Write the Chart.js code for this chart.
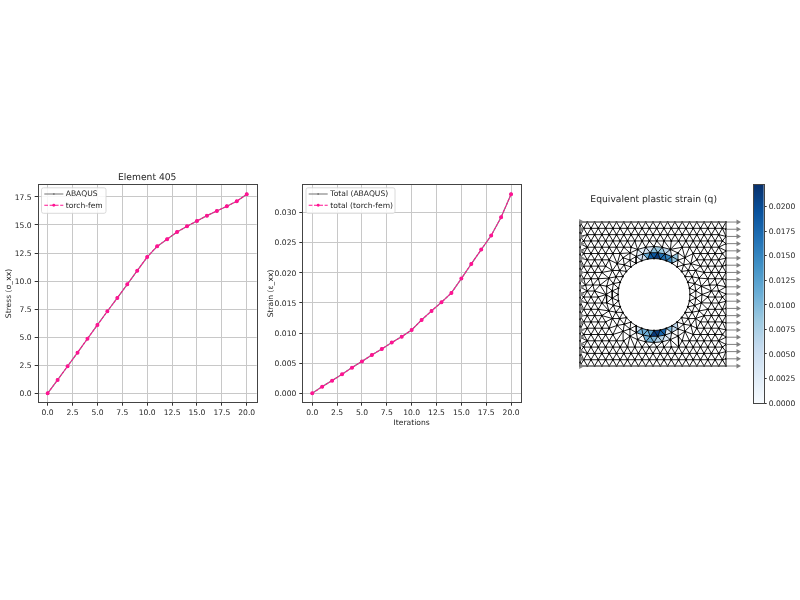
<!DOCTYPE html>
<html><head><meta charset="utf-8">
<style>html,body{margin:0;background:#fff;width:800px;height:600px;overflow:hidden}canvas{position:absolute;display:block;filter:blur(.25px)}</style>
<script src="https://cdn.jsdelivr.net/npm/chart.js@4"></script></head><body>
<canvas id="c1" width="265" height="270" style="left:0;top:165px"></canvas>
<canvas id="c2" width="270" height="270" style="left:265px;top:165px"></canvas>
<canvas id="c3" width="188" height="270" style="left:560px;top:165px"></canvas>
<canvas id="c4" width="60" height="270" style="left:740px;top:165px"></canvas>
<script>
const iterations=[0,1,2,3,4,5,6,7,8,9,10,11,12,13,14,15,16,17,18,19,20];
const stressAbaqus=[0,1.2,2.41,3.63,4.86,6.09,7.31,8.51,9.71,10.93,12.14,13.09,13.73,14.38,14.88,15.36,15.83,16.25,16.67,17.11,17.74];
const stressTorch=[0,1.19,2.41,3.62,4.87,6.09,7.31,8.5,9.71,10.93,12.15,13.1,13.73,14.38,14.88,15.36,15.83,16.25,16.67,17.11,17.74];
const strainAbaqus=[0,.00111,.00211,.00316,.00427,.0053,.00637,.00737,.00842,.00941,.01052,.01218,.01368,.01512,.01668,.01905,.02148,.02386,.02619,.02924,.03306];
const strainTorch=[0,.0011,.0021,.00316,.00426,.0053,.00637,.00736,.00842,.00941,.01052,.01218,.01368,.01512,.01667,.01905,.02148,.02387,.02619,.02924,.03306];
const xTicks=[0,2.5,5,7.5,10,12.5,15,17.5,20];
const stressTicks=[0,2.5,5,7.5,10,12.5,15,17.5];
const strainTicks=[0,.005,.01,.015,.02,.025,.03];
const colorbarTicks=[0,.0025,.005,.0075,.01,.0125,.015,.0175,.02];
const colorbarMax=0.02228;
const blues=['#f7fbff','#deebf7','#c6dbef','#9ecae1','#6baed6','#4292c6','#2171b5','#08519c','#08306b'];
// mesh nodes: [row height, x positions]
const rowA=[7.3,14.6,21.9,29.2,36.5,43.8,51.1,58.4,65.7,73,80.3,87.6,94.9,102.2,109.5,116.8,124.1,131.4,138.7];
const rowB=[3.7,11,18.3,25.6,32.9,40.2,47.5,54.8,62.1,69.4,76.7,84,91.3,98.6,105.9,113.2,120.5,127.8,135.1,142.4];
const meshRows=[
[137.7,rowB],[131.4,rowA],[125.1,rowB],[118.8,rowA],
[112.5,[3.7,11,18.3,25.6,32.9,40.2,47.5,98.6,105.9,113.2,120.5,127.8,135.1,142.4]],
[106.2,[7.3,14.6,21.9,29.2,36.5,109.5,116.8,124.1,131.4,138.7]],
[99.9,[3.7,11,18.3,25.6,32.9,113.2,120.5,127.8,135.1,142.4]],
[93.6,[7.3,14.6,21.9,29.2,116.8,124.1,131.4,138.7]],
[87.3,[3.7,11,18.3,25.6,120.5,127.8,135.1,142.4]],
[81,[5.5,12.8,20.1,27,122.3,129.6,136.9]],
[75,[7.3,14.6,21.9,27,124.1,131.4,138.7]],
[69,[3.7,11,18.3,25,121.5,127.8,135.1,142.4]],
[63,[7.3,14.6,21.9,27.3,122.5,131.4,138.7]],
[56.7,[3.7,11,18.3,25.6,120.5,127.8,135.1,142.4]],
[50.4,[7.3,14.6,21.9,29.2,116.8,124.1,131.4,138.7]],
[44.1,[3.7,11,18.3,25.6,32.9,113.2,120.5,127.8,135.1,142.4]],
[37.8,[7.3,14.6,21.9,29.2,36.5,109.5,116.8,124.1,131.4,138.7]],
[31.5,[3.7,11,18.3,25.6,32.9,40.2,47.5,105.9,113.2,120.5,127.8,135.1,142.4]],
[25.2,rowA],[18.9,rowB],[12.6,rowA],[6.3,rowB]];
const topBottomRow=[0,7.3,14.6,21.9,29.2,36.5,43.8,51.1,58.4,65.7,73,80.3,87.6,94.9,102.2,109.5,116.8,124.1,131.4,138.7,146];
const edgeHeights=[7.2,14.4,21.6,28.8,36,43.2,50.4,57.6,64.8,72,79.2,86.4,93.6,100.8,108,115.2,122.4,129.6,136.8];
const holeRing=[[110,71.5],[109.5,77.8],[107.8,83.8],[105.2,89.5],[101.6,94.6],[97.1,99.1],[92,102.7],[86.3,105.3],[80.3,107],[74,107.5],[67.7,107],[61.7,105.3],[56,102.7],[50.9,99.1],[46.4,94.6],[42.8,89.5],[40.2,83.8],[38.5,77.8],[38,71.5],[38.5,65.2],[40.2,59.2],[42.8,53.5],[46.4,48.4],[50.9,43.9],[56,40.3],[61.7,37.7],[67.7,36],[74,35.5],[80.3,36],[86.3,37.7],[92,40.3],[97.1,43.9],[101.6,48.4],[105.2,53.5],[107.8,59.2],[109.5,65.2]];
const holeRing2=[[115.8,75.2],[114.6,82.4],[112.1,89.2],[108.4,95.6],[103.7,101.2],[98.1,105.9],[91.7,109.6],[84.9,112.1],[77.7,113.3],[70.3,113.3],[63.1,112.1],[56.3,109.6],[49.9,105.9],[44.3,101.2],[39.6,95.6],[35.9,89.2],[33.4,82.4],[32.2,75.2],[32.2,67.8],[33.4,60.6],[35.9,53.8],[39.6,47.4],[44.3,41.8],[49.9,37.1],[56.3,33.4],[63.1,30.9],[70.3,29.7],[77.7,29.7],[84.9,30.9],[91.7,33.4],[98.1,37.1],[103.7,41.8],[108.4,47.4],[112.1,53.8],[114.6,60.6],[115.8,67.8]];
const holeRing3=[[122,71.5],[121.3,79.8],[119.1,87.9],[115.6,95.5],[110.8,102.4],[104.9,108.3],[98,113.1],[90.4,116.6],[82.3,118.8],[74,119.5],[65.7,118.8],[57.6,116.6],[50,113.1],[43.1,108.3],[37.2,102.4],[32.4,95.5],[28.9,87.9],[26.7,79.8],[26,71.5],[26.7,63.2],[28.9,55.1],[32.4,47.5],[37.2,40.6],[43.1,34.7],[50,29.9],[57.6,26.4],[65.7,24.2],[74,23.5],[82.3,24.2],[90.4,26.4],[98,29.9],[104.9,34.7],[110.8,40.6],[115.6,47.5],[119.1,55.1],[121.3,63.2]];
const holeCentre=[74,71.5],holeRadius=36,latticeClearance=52.5;
// equivalent plastic strain read per patch of elements: [x, y, q]
const strainCells=[[77.5,109.5,.0215],[71,110,.019],[84,110,.017],[66,110,.012],[90,108,.015],[62,108,.004],[94,107,.009],[74,116,.0095],[81,116,.0085],[67,116,.004],[88,114,.006],[61,112,.002],
[77,33,.0215],[70,34,.013],[84,33,.018],[64,35,.011],[90,36,.01],[59,38,.004],[95,39,.006],[67,29,.011],[74,28,.01],[81,28,.007],[87,31,.003]];
const arrowHeights=[0,7.2,14.4,21.6,28.8,36,43.2,50.4,57.6,64.8,72,79.2,86.4,93.6,100.8,108,115.2,122.4,129.6,136.8,144];
const plateWidth=146,arrowLength=12;

Chart.defaults.font.family='"DejaVu Sans"';
Chart.defaults.font.size=7.6;
Chart.defaults.color='#262626';
Chart.defaults.animation=false;
Chart.defaults.responsive=false;
Chart.register({id:'preciseText',beforeDraw(ch){ch.ctx.textRendering='geometricPrecision';}});

const frame={id:'frame',afterDatasetsDraw(ch){const a=ch.chartArea,c=ch.ctx;c.save();c.strokeStyle='#444';c.lineWidth=1;
 c.strokeRect(Math.round(a.left)+.5,Math.round(a.top)+.5,Math.round(a.right-a.left),Math.round(a.bottom-a.top));c.restore();}};
function legendPlugin(box,sample,textX,rows){return {id:'lg',afterDraw(ch){const c=ch.ctx,[x,y,w,h]=box;c.save();
 c.beginPath();c.roundRect(x,y,w,h,2);c.fillStyle='rgba(255,255,255,.85)';c.fill();c.strokeStyle='#d0d0d0';c.lineWidth=.8;c.stroke();
 c.font='7.6px "DejaVu Sans"';c.textBaseline='middle';
 ch.data.datasets.forEach((d,i)=>{const yy=rows[i];c.strokeStyle=d.borderColor;c.lineWidth=1.1;c.setLineDash(d.borderDash?[3.7,1.6]:[]);
  c.beginPath();c.moveTo(sample[0],yy);c.lineTo(sample[1],yy);c.stroke();c.setLineDash([]);
  c.fillStyle=d.borderColor;c.beginPath();c.arc((sample[0]+sample[1])/2,yy,d.pointRadius,0,7);c.fill();
  c.fillStyle='#262626';c.fillText(d.label,textX,yy+.3);});c.restore();}};}
const pts=a=>a.map((v,i)=>({x:iterations[i],y:v}));
function lineChart(id,o){
 const axisGrid={color:'#c8c8c8',lineWidth:1,tickLength:3,tickColor:'#333',tickWidth:1,drawTicks:true};
 return new Chart(document.getElementById(id),{type:'line',
 data:{datasets:[
  {label:o.labels[0],data:pts(o.a),borderColor:'#7f7f7f',backgroundColor:'#7f7f7f',borderWidth:1.2,pointRadius:1,order:2,tension:0},
  {label:o.labels[1],data:pts(o.b),borderColor:'#ff1493',backgroundColor:'#ff1493',borderWidth:1.1,borderDash:[3,1],pointRadius:1.45,order:1,tension:0}]},
 options:{parsing:true,layout:{padding:{right:o.padRight,top:o.padTop||0}},
  plugins:{legend:{display:false},tooltip:{enabled:false},
   title:{display:!!o.title,fullSize:false,text:o.title||'',font:{size:9.2,weight:'normal'},color:'#262626',padding:{top:7,bottom:1.3}}},
  scales:{
   x:{type:'linear',min:-1,max:21,afterBuildTicks:s=>{s.ticks=xTicks.map(v=>({value:v}));},
      afterFit:s=>{s.height=o.xHeight;},grid:axisGrid,border:{display:false},
      ticks:{padding:3,maxRotation:0,autoSkip:false,callback:v=>v.toFixed(1)},
      title:{display:!!o.xTitle,text:o.xTitle||'',font:{size:7.6},color:'#262626',padding:{top:0,bottom:7.5}}},
   y:{type:'linear',min:o.min,max:o.max,afterBuildTicks:s=>{s.ticks=o.ticks.map(v=>({value:v}));},
      afterFit:s=>{s.width=o.yWidth;},grid:axisGrid,border:{display:false},
      ticks:{padding:3,labelOffset:.7,autoSkip:false,callback:v=>v.toFixed(o.dec)},
      title:{display:true,text:o.yTitle,font:{size:7.6},color:'#262626',padding:{top:o.yTitlePad,bottom:0}}}}},
 plugins:[frame,legendPlugin(o.box,o.sample,o.textX,[29,40.3])]});
}
lineChart('c1',{a:stressAbaqus,b:stressTorch,labels:['ABAQUS','torch-fem'],title:'Element 405',yTitle:'Stress (σ_xx)',min:-.84,max:18.62,ticks:stressTicks,dec:1,
 padRight:8.3,xHeight:32.3,yWidth:37.7,yTitlePad:4.5,box:[41.5,22.8,64.5,25.5],sample:[44.3,63.3],textX:65.7});
lineChart('c2',{a:strainAbaqus,b:strainTorch,labels:['Total (ABAQUS)','total (torch-fem)'],yTitle:'Strain (ε_xx)',xTitle:'Iterations',min:-.00156,max:.0347,ticks:strainTicks,dec:3,
 padRight:14,padTop:19.3,xHeight:32.3,yWidth:37.3,yTitlePad:1.5,box:[41,22.8,89,25.5],sample:[43.7,62.7],textX:65.3});

// triangulate the read nodes
const nodes=[];
topBottomRow.forEach(x=>{nodes.push([x,144]);nodes.push([x,0]);});
edgeHeights.forEach(y=>{nodes.push([0,y]);nodes.push([plateWidth,y]);});
meshRows.forEach(([y,xs])=>xs.forEach(x=>{if(Math.hypot(x-holeCentre[0],y-holeCentre[1])>=latticeClearance)nodes.push([x,y]);}));
holeRing.forEach(p=>nodes.push(p));holeRing2.forEach(p=>nodes.push(p));holeRing3.forEach(p=>nodes.push(p));
function delaunay(P){const n=P.length,all=P.concat([[-5000,-5000],[5000,-5000],[0,6000]]);let T=[[n,n+1,n+2]];
 const inC=(t,p)=>{const [a,b,c]=t.map(i=>all[i]);const ax=a[0]-p[0],ay=a[1]-p[1],bx=b[0]-p[0],by=b[1]-p[1],cx=c[0]-p[0],cy=c[1]-p[1];
  const det=(ax*ax+ay*ay)*(bx*cy-cx*by)-(bx*bx+by*by)*(ax*cy-cx*ay)+(cx*cx+cy*cy)*(ax*by-bx*ay);
  const o=(b[0]-a[0])*(c[1]-a[1])-(b[1]-a[1])*(c[0]-a[0]);return o>0?det>0:det<0;};
 for(let i=0;i<n;i++){const bad=[],keep=[];T.forEach(t=>(inC(t,all[i])?bad:keep).push(t));const E=new Map();
  bad.forEach(t=>[[t[0],t[1]],[t[1],t[2]],[t[2],t[0]]].forEach(([u,v])=>{const k=Math.min(u,v)+'_'+Math.max(u,v);E.set(k,E.has(k)?null:[u,v]);}));
  E.forEach(e=>{if(e)keep.push([e[0],e[1],i]);});T=keep;}
 return T.filter(t=>t.every(i=>i<n));}
const tris=delaunay(nodes).filter(t=>{const [a,b,c]=t.map(i=>nodes[i]);
 const area=Math.abs((b[0]-a[0])*(c[1]-a[1])-(b[1]-a[1])*(c[0]-a[0]))/2;
 const cx=(a[0]+b[0]+c[0])/3,cy=(a[1]+b[1]+c[1])/3;
 return area>.5&&Math.hypot(cx-holeCentre[0],cy-holeCentre[1])>holeRadius;});
function blueOf(q){const t=Math.min(1,q/colorbarMax)*8,i=Math.min(7,Math.floor(t)),f=t-i;
 const h=s=>[1,3,5].map(k=>parseInt(s.substr(k,2),16));const A=h(blues[i]),B=h(blues[i+1]);
 return 'rgb('+A.map((v,k)=>Math.round(v+(B[k]-v)*f)).join(',')+')';}
const cellSets=[];const seen=new Set();const meshLine=[];
tris.forEach(t=>{const P=t.map(i=>nodes[i]);const cx=(P[0][0]+P[1][0]+P[2][0])/3,cy=(P[0][1]+P[1][1]+P[2][1])/3;
 let best=null,bd=4.5;strainCells.forEach(s=>{const d=Math.hypot(s[0]-cx,s[1]-cy);if(d<bd){bd=d;best=s;}});
 if(best)cellSets.push({type:'scatter',data:[...P,P[0]].map(p=>({x:p[0],y:p[1]})),showLine:true,fill:'shape',tension:0,borderWidth:0,pointRadius:0,backgroundColor:blueOf(best[2]),borderColor:'transparent',order:5});
 [[t[0],t[1]],[t[1],t[2]],[t[2],t[0]]].forEach(([u,v])=>{const k=Math.min(u,v)+'_'+Math.max(u,v);if(seen.has(k))return;seen.add(k);
  meshLine.push({x:nodes[u][0],y:nodes[u][1]},{x:nodes[v][0],y:nodes[v][1]},{x:nodes[v][0],y:null});});});
const shafts=[];arrowHeights.forEach(y=>shafts.push({x:plateWidth,y},{x:plateWidth+arrowLength,y},{x:plateWidth+arrowLength,y:null}));
shafts.push({x:0,y:144},{x:plateWidth,y:144},{x:plateWidth,y:null},{x:0,y:0},{x:plateWidth,y:0},{x:plateWidth,y:null});
new Chart(document.getElementById('c3'),{type:'scatter',data:{datasets:[
 ...cellSets,
 {data:meshLine,showLine:true,borderColor:'#000',borderWidth:.9,pointRadius:0,spanGaps:false,tension:0,order:4},
 {data:nodes.map(p=>({x:p[0],y:p[1]})),pointRadius:1,backgroundColor:'#000',borderWidth:0,order:3},
 {data:shafts,showLine:true,borderColor:'#808080',borderWidth:1,pointRadius:0,spanGaps:false,order:2},
 {data:arrowHeights.map(y=>({x:plateWidth+arrowLength,y})),pointStyle:'triangle',pointRotation:90,pointRadius:3,backgroundColor:'#808080',borderWidth:0,order:1},
 {data:arrowHeights.map(y=>({x:1,y})),pointStyle:'triangle',pointRotation:90,pointRadius:3.6,backgroundColor:'#808080',borderWidth:0,order:1}
]},options:{layout:{padding:{left:5.4,right:6,bottom:55}},
 plugins:{legend:{display:false},tooltip:{enabled:false},title:{display:true,fullSize:false,text:'Equivalent plastic strain (q)',font:{size:9.2,weight:'normal'},color:'#262626',padding:{top:29,bottom:0}}},
 scales:{x:{type:'linear',min:-14.6,max:162,display:false},y:{type:'linear',min:-14,max:161,display:false}}}});

new Chart(document.getElementById('c4'),{type:'bar',data:{labels:['q'],datasets:[{data:[[0,colorbarMax]],barPercentage:1,categoryPercentage:1,borderWidth:0,
 backgroundColor:ctx=>{const a=ctx.chart.chartArea;if(!a)return blues[4];const g=ctx.chart.ctx.createLinearGradient(0,a.bottom,0,a.top);blues.forEach((b,i)=>g.addColorStop(i/8,b));return g;}}]},
 options:{layout:{padding:{left:13,top:19.3,bottom:32}},plugins:{legend:{display:false},tooltip:{enabled:false}},
 scales:{x:{display:false},y:{position:'right',min:0,max:colorbarMax,afterBuildTicks:s=>{s.ticks=colorbarTicks.map(v=>({value:v}));},afterFit:s=>{s.width=36.3;},
  grid:{drawOnChartArea:false,tickLength:3,tickColor:'#333'},border:{display:false},ticks:{padding:2,labelOffset:.7,autoSkip:false,callback:v=>v.toFixed(4)}}}},plugins:[frame]});
</script></body></html>
